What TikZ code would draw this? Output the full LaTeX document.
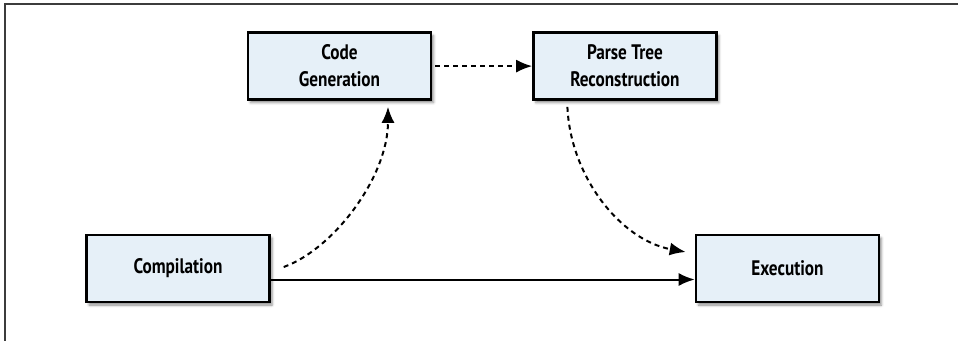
\documentclass[tikz,border=0pt]{standalone}
\usepackage{fontspec}
\newfontfamily\boxfont{PT Sans}[FakeStretch=0.82]
\usepackage{tikz}
\usetikzlibrary{arrows.meta, shadows.blur, positioning}

\definecolor{boxfill}{RGB}{230,240,248}
\definecolor{framecol}{RGB}{60,60,60}

\tikzset{
  stage/.style={draw, line width=2.4pt, fill=boxfill, minimum width=183pt,
    minimum height=67pt, align=center, font=\boxfont\bfseries\fontsize{21}{27}\selectfont,
    blur shadow={shadow xshift=2.5pt, shadow yshift=-3pt, shadow blur radius=2.5pt, shadow opacity=45}},
  flow/.style={line width=2pt, ->},
  maybe/.style={flow, dash pattern=on 5pt off 4pt}
}

\begin{document}
\begin{tikzpicture}[x=1pt, y=-1pt, >={Latex[length=16pt, width=13pt]}]
  \useasboundingbox (0,0) rectangle (959,341);
  \draw[framecol, line width=1.2pt] (958,4) -- (5,4) -- (5,341);

  \node[stage] (comp) at (178,268.5) {Compilation};
  \node[stage, above=133pt of comp, xshift=161.5pt] (codegen) {Code\\Generation};
  \node[stage, right=100pt of codegen] (parse) {Parse Tree\\Reconstruction};
  \node[stage, right=424pt of comp] (exec) {Execution};

  \draw[flow] ([yshift=-11pt]comp.east) -- ([yshift=-11pt]exec.west);
  \draw[maybe] ([xshift=13pt, yshift=1.5pt]comp.east) .. controls +(50,-18) and +(0,70) .. ([shift={(48.5pt,-6pt)}]codegen.south);
  \draw[maybe] ([xshift=3pt]codegen.east) -- (parse.west);
  \draw[maybe] ([shift={(-57.5pt,-6pt)}]parse.south) .. controls +(3,70) and +(-65,-12) .. ([shift={(-9pt,16.5pt)}]exec.west);
\end{tikzpicture}
\end{document}
